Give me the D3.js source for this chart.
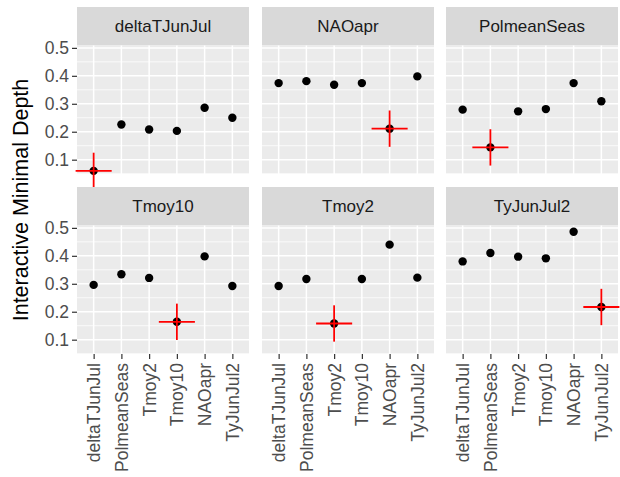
<!DOCTYPE html>
<html>
<head>
<meta charset="utf-8">
<script src="https://cdn.jsdelivr.net/npm/d3@7"></script>
<style>
  body { margin: 0; background: #fff; }
  text { font-family: "Liberation Sans", Arial, Helvetica, sans-serif; }
</style>
</head>
<body>
<div id="chart"></div>
<script>
// facet panels (one per conditioning variable)
var facets = ["deltaTJunJul", "NAOapr", "PolmeanSeas", "Tmoy10", "Tmoy2", "TyJunJul2"];
// variables on the x axis
var variables = ["deltaTJunJul", "PolmeanSeas", "Tmoy2", "Tmoy10", "NAOapr", "TyJunJul2"];

// mean minimal depth, one array per facet, in the order of `variables`
var deltaTJunJul = [0.060, 0.226, 0.208, 0.203, 0.286, 0.250];
var NAOapr       = [0.374, 0.381, 0.368, 0.374, 0.211, 0.398];
var PolmeanSeas  = [0.279, 0.144, 0.273, 0.281, 0.374, 0.309];
var Tmoy10       = [0.296, 0.334, 0.321, 0.164, 0.398, 0.292];
var Tmoy2        = [0.292, 0.317, 0.158, 0.317, 0.440, 0.322];
var TyJunJul2    = [0.380, 0.410, 0.397, 0.391, 0.486, 0.217];
var depths = [deltaTJunJul, NAOapr, PolmeanSeas, Tmoy10, Tmoy2, TyJunJul2];

var yTicks = [0.1, 0.2, 0.3, 0.4, 0.5];
var yMinor = [0.05, 0.15, 0.25, 0.35, 0.45];
var crossY = 0.065;   // half height of the red marker, in depth units
var crossX = 0.65;    // half width of the red marker, in category steps

var width = 620,
    height = 477;

var svg = d3.select("#chart").append("svg")
    .attr("width", width)
    .attr("height", height);

var colX = [77, 262, 446],
    panelW = 172,
    stripH = 38.5,
    panelH = 128.5,
    rowY = [7, 187];

var y = d3.scaleLinear().domain([0.0488, 0.5085]);

facets.forEach(function(f, i) {
    var col = i % 3, row = Math.floor(i / 3);
    var px = colX[col],
        sy = rowY[row],
        py = sy + stripH;

    var x = d3.scalePoint().domain(variables).range([px, px + panelW]).padding(0.6);
    var step = x.step();
    var yy = y.copy().range([py + panelH, py]);

    var g = svg.append("g").attr("class", "panel");

    // strip
    g.append("rect")
        .attr("x", px).attr("y", sy)
        .attr("width", panelW).attr("height", stripH)
        .attr("fill", "#d9d9d9");
    g.append("text")
        .attr("x", px + panelW / 2)
        .attr("y", sy + stripH / 2 + 6)
        .attr("text-anchor", "middle")
        .attr("font-size", 17)
        .attr("fill", "#1a1a1a")
        .text(f);

    // panel background + grid
    g.append("rect")
        .attr("x", px).attr("y", py)
        .attr("width", panelW).attr("height", panelH)
        .attr("fill", "#ebebeb");

    g.selectAll(".minor").data(yMinor).enter().append("line")
        .attr("x1", px).attr("x2", px + panelW)
        .attr("y1", function(d) { return yy(d); })
        .attr("y2", function(d) { return yy(d); })
        .attr("stroke", "#fff").attr("stroke-width", 0.75);

    g.selectAll(".major").data(yTicks).enter().append("line")
        .attr("x1", px).attr("x2", px + panelW)
        .attr("y1", function(d) { return yy(d); })
        .attr("y2", function(d) { return yy(d); })
        .attr("stroke", "#fff").attr("stroke-width", 1.5);

    g.selectAll(".vgrid").data(variables).enter().append("line")
        .attr("x1", function(d) { return x(d); })
        .attr("x2", function(d) { return x(d); })
        .attr("y1", py).attr("y2", py + panelH)
        .attr("stroke", "#fff").attr("stroke-width", 1.5);

    // points
    var vals = depths[i];
    g.selectAll("circle").data(variables).enter().append("circle")
        .attr("cx", function(d) { return x(d); })
        .attr("cy", function(d, j) { return yy(vals[j]); })
        .attr("r", 4.2)
        .attr("fill", "#000");

    // red marker on the facet's own variable
    var k = variables.indexOf(f);
    var cx = x(f), v = vals[k];
    g.append("line")
        .attr("x1", cx - crossX * step).attr("x2", cx + crossX * step)
        .attr("y1", yy(v)).attr("y2", yy(v))
        .attr("stroke", "red").attr("stroke-width", 1.8);
    g.append("line")
        .attr("x1", cx).attr("x2", cx)
        .attr("y1", yy(v - crossY)).attr("y2", yy(v + crossY))
        .attr("stroke", "red").attr("stroke-width", 1.8);

    // y axis on first column
    if (col === 0) {
        var ya = g.append("g")
            .attr("transform", "translate(" + px + ",0)")
            .call(d3.axisLeft(yy).tickValues(yTicks).tickSize(5).tickPadding(3).tickFormat(d3.format(".1f")));
        ya.select(".domain").remove();
        ya.selectAll(".tick line").attr("stroke", "#333").attr("stroke-width", 1.2);
        ya.selectAll(".tick text")
            .attr("font-size", 17.5)
            .attr("fill", "#4d4d4d")
            .style("font-family", "'Liberation Sans', Arial, sans-serif");
    }

    // x axis on bottom row
    if (row === 1) {
        var xa = g.append("g")
            .attr("transform", "translate(0," + (py + panelH) + ")")
            .call(d3.axisBottom(x).tickSize(5).tickPadding(4));
        xa.select(".domain").remove();
        xa.selectAll(".tick line").attr("stroke", "#333").attr("stroke-width", 1.2);
        xa.selectAll(".tick text")
            .attr("font-size", 17.5)
            .attr("fill", "#4d4d4d")
            .style("font-family", "'Liberation Sans', Arial, sans-serif")
            .attr("transform", "rotate(-90)")
            .attr("text-anchor", "end")
            .attr("x", -9)
            .attr("y", 0)
            .attr("dy", "0.35em");
    }
});

svg.append("text")
    .attr("transform", "translate(27.5,200) rotate(-90)")
    .attr("text-anchor", "middle")
    .attr("font-size", 21.5)
    .attr("fill", "#000")
    .text("Interactive Minimal Depth");
</script>
</body>
</html>
